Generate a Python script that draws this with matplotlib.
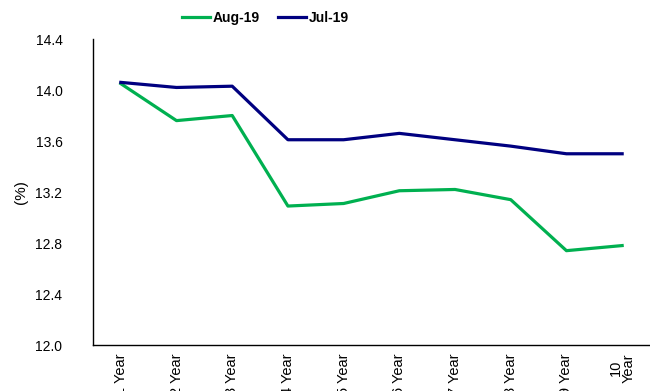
import matplotlib.pyplot as plt

plt.rcParams['font.family'] = ['Liberation Sans', 'DejaVu Sans']

# tenor buckets and yields (%)
tenors = ['1 Year', '2 Year', '3 Year', '4 Year', '5 Year', '6 Year',
          '7 Year', '8 Year', '9 Year', '10\nYear']
aug19 = [14.05, 13.76, 13.80, 13.09, 13.11, 13.21, 13.22, 13.14, 12.74, 12.78]
jul19 = [14.06, 14.02, 14.03, 13.61, 13.61, 13.66, 13.61, 13.56, 13.50, 13.50]

fig = plt.figure(figsize=(6.5, 3.91), dpi=100)
ax = fig.add_axes([0.143, 0.1176, 0.857, 0.7826])

x = range(len(tenors))
ax.plot(x, aug19, color='#00B050', linewidth=2.3, label='Aug-19')
ax.plot(x, jul19, color='#000080', linewidth=2.3, label='Jul-19')

ax.set_xlim(-0.5, len(tenors) - 0.5)
ax.set_ylim(12.0, 14.4)
ax.set_yticks([12.0, 12.4, 12.8, 13.2, 13.6, 14.0, 14.4])
ax.set_yticklabels(['%.1f' % v for v in ax.get_yticks()], fontsize=10)
ax.set_xticks(list(x))
ax.set_xticklabels(tenors, rotation=90, fontsize=10.5, va='top', ha='center',
                   linespacing=0.95)
ax.tick_params(axis='both', length=0)
ax.tick_params(axis='y', pad=22)
ax.tick_params(axis='x', pad=6)

ax.set_ylabel('(%)', fontsize=11, labelpad=5)

for s in ['top', 'right']:
    ax.spines[s].set_visible(False)
ax.spines['left'].set_linewidth(1)
ax.spines['bottom'].set_linewidth(1)

ax.legend(loc='center', bbox_to_anchor=(0.31, 1.07), ncol=2, frameon=False,
          prop={'weight': 'bold', 'size': 10}, handlelength=2.0,
          handletextpad=0.2, columnspacing=1.3)

plt.savefig('out.png', dpi=100)
plt.close()
